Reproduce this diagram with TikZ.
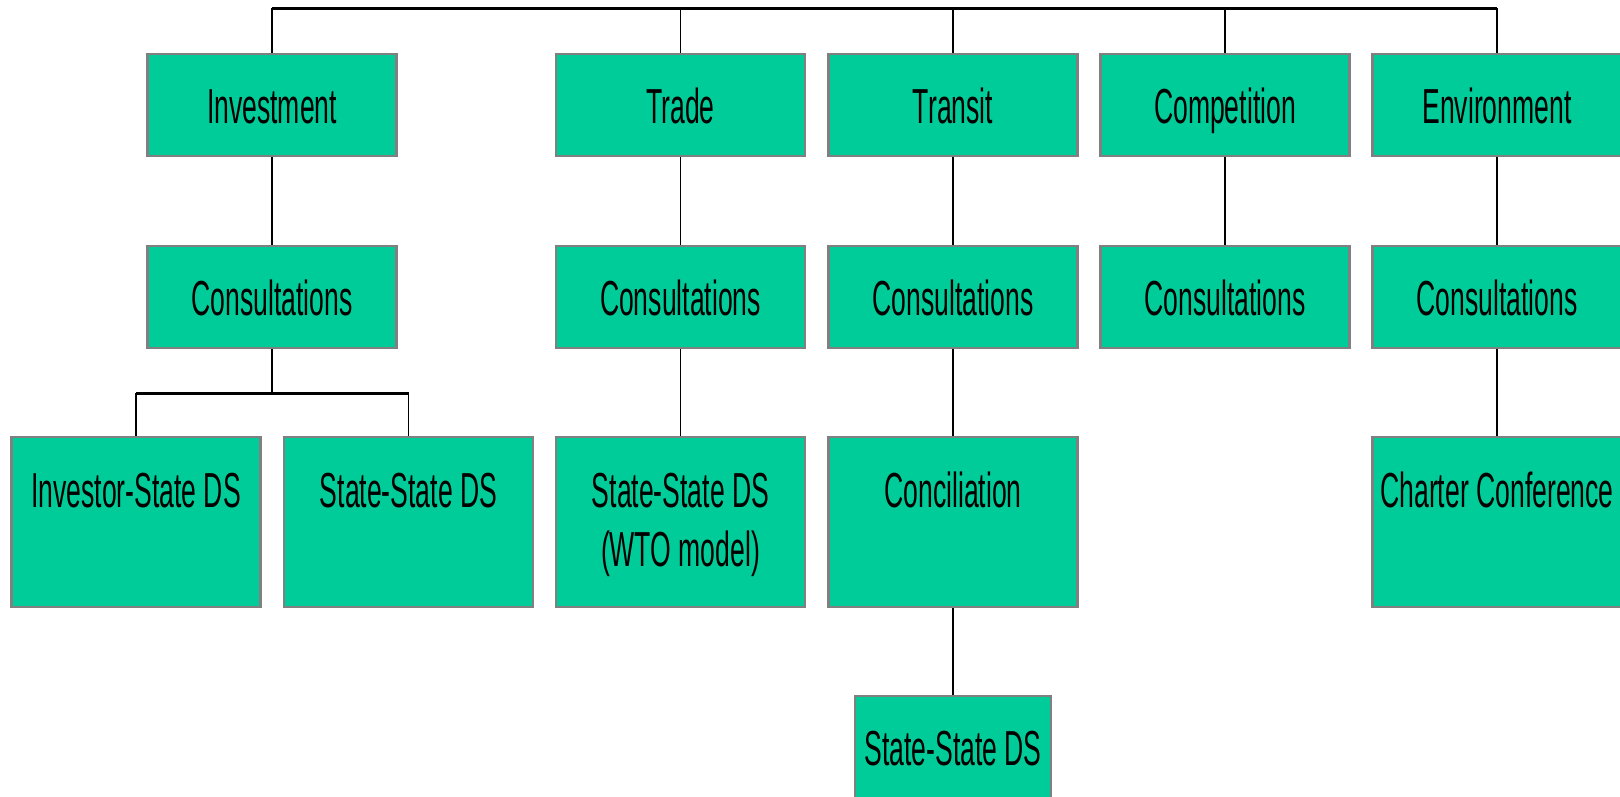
\documentclass[tikz,border=0pt]{standalone}
\usepackage{fontspec}
\newfontfamily\narrowsans{Liberation Sans}[FakeStretch=0.54]
\usetikzlibrary{positioning}
\definecolor{boxgreen}{HTML}{00CC99}
\definecolor{boxedge}{HTML}{808080}

\begin{document}
\begin{tikzpicture}[
  every node/.style={font=\narrowsans\fontsize{28}{33.6}\selectfont, text=black},
  box/.style={draw=boxedge, fill=boxgreen, line width=1.5pt,
    minimum width=4.98cm, minimum height=2.04cm, inner sep=0pt,
    text height=0.72cm, text depth=0pt},
  tallbox/.style={box, text height=1.4cm, text depth=2.0cm},
  smallbox/.style={box, minimum width=3.92cm},
  link/.style={draw, line width=0.85pt},
  busline/.style={draw, line width=1.7pt},
]
\useasboundingbox (0,0) rectangle (32.4,-15.92);

% Topics
\node[box] (inv)     at (5.44,-2.10)  {Investment};
\node[box] (trade)   at (13.61,-2.10) {Trade};
\node[box] (transit) at (19.06,-2.10) {Transit};
\node[box] (comp)    at (24.50,-2.10) {Competition};
\node[box] (env)     at (29.94,-2.10) {Environment};

% Consultations
\node[box] (invcons)   at (5.44,-5.94)  {Consultations};
\node[box] (tradecons) at (13.61,-5.94) {Consultations};
\node[box] (transcons) at (19.06,-5.94) {Consultations};
\node[box] (compcons)  at (24.50,-5.94) {Consultations};
\node[box] (envcons)   at (29.94,-5.94) {Consultations};

% Settlement steps
\node[tallbox] (isds)    at (2.72,-10.44)  {\parbox[t]{4.9cm}{\centering Investor-State DS}};
\node[tallbox] (ssds)    at (8.17,-10.44)  {\parbox[t]{4.9cm}{\centering State-State DS}};
\node[tallbox] (wto)     at (13.61,-10.44) {\parbox[t]{4.9cm}{\centering State-State DS\\(WTO model)}};
\node[tallbox] (concil)  at (19.06,-10.44) {\parbox[t]{4.9cm}{\centering Conciliation}};
\node[tallbox] (charter) at (29.94,-10.44) {\parbox[t]{4.9cm}{\centering Charter Conference}};

\node[smallbox] (transds) at (19.06,-14.94) {State-State DS};

% Top bus
\coordinate (bus)  at (0,-0.16);
\coordinate (fork) at (0,-7.86);
\draw[busline] (inv.north |- bus) -- (env.north |- bus);
\foreach \n in {inv,trade,transit,comp,env}
  \draw[link] (\n.north |- bus) -- (\n.north);

% Links down
\foreach \a/\b in {inv/invcons, trade/tradecons, transit/transcons, comp/compcons,
                   env/envcons, tradecons/wto, transcons/concil, envcons/charter,
                   concil/transds}
  \draw[link] (\a) -- (\b);

% Investment fork
\draw[link] (invcons) -- (invcons.south |- fork);
\draw[busline] (isds.north |- fork) -- (ssds.north |- fork);
\draw[link] (isds.north |- fork) -- (isds);
\draw[link] (ssds.north |- fork) -- (ssds);

\end{tikzpicture}
\end{document}
